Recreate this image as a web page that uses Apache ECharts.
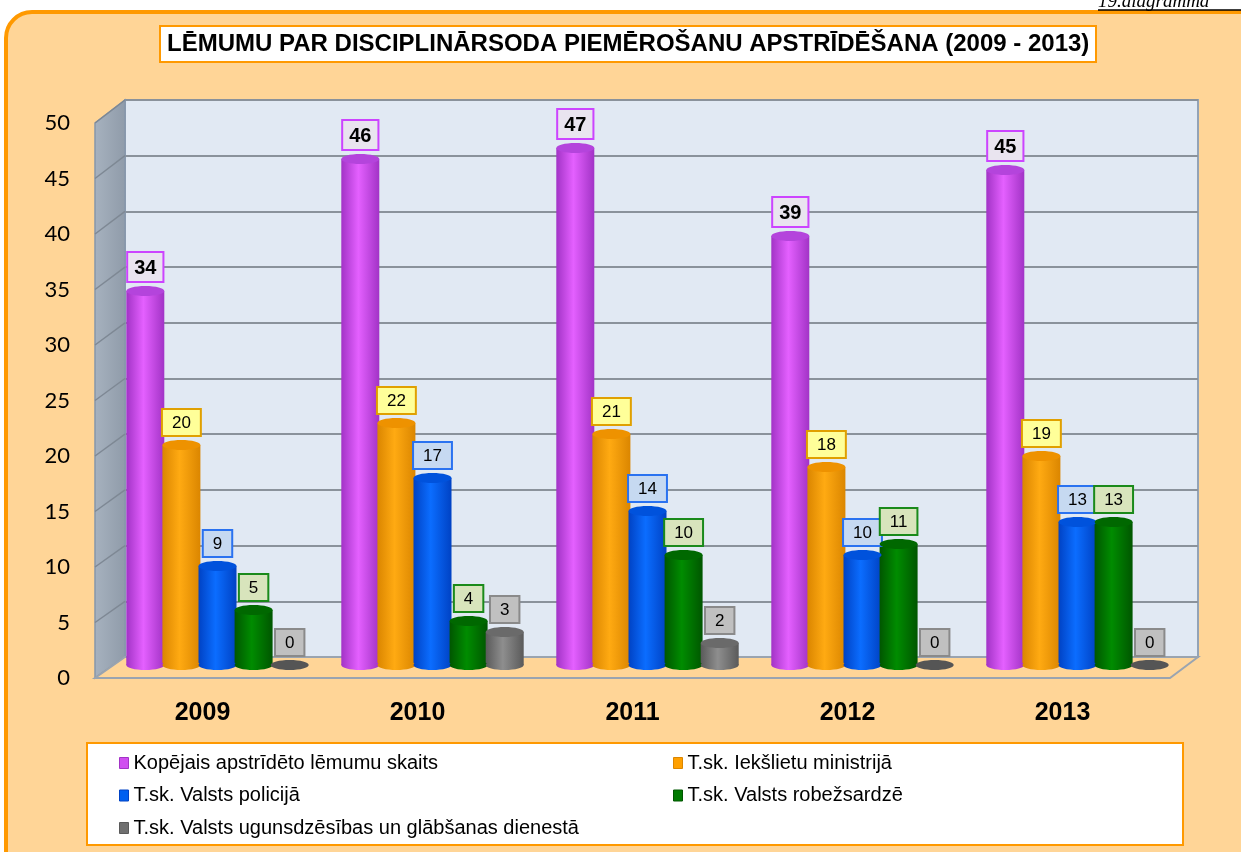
<!DOCTYPE html>
<html>
<head>
<meta charset="utf-8">
<script src="https://cdn.jsdelivr.net/npm/echarts@6/dist/echarts.min.js"></script>
<style>
  html, body { margin: 0; padding: 0; background: #fff; overflow: hidden; }
  #frame {
    position: absolute; left: 4px; top: 10px; width: 1270px; height: 880px;
    background: #FFD597; border: 4px solid #FF9900; border-radius: 28px;
  }
  #chart { position: absolute; left: 0; top: 0; width: 1241px; height: 852px; }
</style>
</head>
<body>
<div id="frame"></div>
<div id="chart"></div>
<script>
// data
const years = ['2009', '2010', '2011', '2012', '2013'];
const totalAppealed = [34, 46, 47, 39, 45];
const interiorMinistry = [20, 22, 21, 18, 19];
const statePolice = [9, 17, 14, 10, 13];
const borderGuard = [5, 4, 10, 11, 13];
const fireService = [0, 3, 2, 0, 0];
const yTicks = [0, 5, 10, 15, 20, 25, 30, 35, 40, 45, 50];

const seriesNames = [
  'Kopējais apstrīdēto lēmumu skaits',
  'T.sk. Iekšlietu ministrijā',
  'T.sk. Valsts policijā',
  'T.sk. Valsts robežsardzē',
  'T.sk. Valsts ugunsdzēsības un glābšanas dienestā'
];
const seriesValues = [totalAppealed, interiorMinistry, statePolice, borderGuard, fireService];

// look of each cylinder series
const looks = [
  { edge: '#A233C6', mid: '#E460FF', cap: '#B444DC', legend: '#D04EF0', bg: '#E9E4EF', line: '#CC44FF', bold: true },
  { edge: '#DB8600', mid: '#FFAA12', cap: '#EE9200', legend: '#FFA000', bg: '#FFFF99', line: '#E0A000' },
  { edge: '#0042C4', mid: '#0B6DFF', cap: '#0052DC', legend: '#0060F0', bg: '#C6D9F1', line: '#2A72F0' },
  { edge: '#005600', mid: '#008C00', cap: '#006800', legend: '#007A00', bg: '#D8E4BC', line: '#1A8A1A' },
  { edge: '#5A5A5A', mid: '#8E8E8E', cap: '#6A6A6A', legend: '#707070', bg: '#C0C0C0', line: '#8A8A8A' }
];

const BAR_W = 38;
const BAR_GAP = -0.05;
const font = '"Liberation Sans", Arial, sans-serif';

function bodyGradient(lk) {
  return new echarts.graphic.LinearGradient(0, 0, 1, 0, [
    { offset: 0, color: lk.edge },
    { offset: 0.45, color: lk.mid },
    { offset: 1, color: lk.edge }
  ]);
}

const barSeries = seriesValues.map((vals, k) => {
  const lk = looks[k];
  return {
    name: seriesNames[k],
    type: 'bar',
    xAxisIndex: 2,
    yAxisIndex: 2,
    data: vals,
    barWidth: BAR_W,
    barGap: (BAR_GAP * 100) + '%',
    itemStyle: { color: bodyGradient(lk) },
    label: {
      show: true,
      position: 'top',
      distance: 10,
      formatter: '{c}',
      fontFamily: font,
      fontSize: lk.bold ? 20 : 17,
      fontWeight: lk.bold ? 'bold' : 'normal',
      color: '#000',
      backgroundColor: lk.bg,
      borderColor: lk.line,
      borderWidth: 2,
      padding: lk.bold ? [5, 6, 3, 6] : [5, 9, 3, 9]
    }
  };
});

// elliptic caps and bottoms so the bars read as cylinders
const capSeries = {
  type: 'custom',
  xAxisIndex: 2,
  yAxisIndex: 2,
  z: 3,
  silent: true,
  data: years.map((y, i) => [i]),
  renderItem: function (params, api) {
    const i = api.value(0);
    const step = BAR_W * (1 + BAR_GAP);
    const children = [];
    seriesValues.forEach((vals, k) => {
      const lk = looks[k];
      const v = vals[i];
      const top = api.coord([i, v]);
      const base = api.coord([i, 0]);
      const cx = top[0] + (k - 2) * step;
      if (v > 0) {
        children.push({ type: 'ellipse', shape: { cx: cx, cy: base[1], rx: BAR_W / 2, ry: 5 }, style: { fill: bodyGradient(lk) } });
        children.push({ type: 'ellipse', shape: { cx: cx, cy: top[1], rx: BAR_W / 2, ry: 5 }, style: { fill: lk.cap } });
      } else {
        children.push({ type: 'ellipse', shape: { cx: cx, cy: base[1], rx: BAR_W / 2, ry: 5 }, style: { fill: '#555' } });
      }
    });
    return { type: 'group', children: children };
  }
};

const chart = echarts.init(document.getElementById('chart'));

const legendText = { fontFamily: font, fontSize: 20, color: '#000' };

const option = {
  animation: false,
  backgroundColor: 'transparent',
  title: {
    text: 'LĒMUMU PAR DISCIPLINĀRSODA PIEMĒROŠANU APSTRĪDĒŠANA (2009 - 2013)',
    left: 160,
    top: 26,
    padding: [6, 7, 5, 7],
    backgroundColor: '#fff',
    borderColor: '#FF9900',
    borderWidth: 2,
    textStyle: { fontFamily: font, fontSize: 24, fontWeight: 'bold', color: '#000', lineHeight: 25 }
  },
  legend: [
    {
      left: 114, top: 748, orient: 'vertical', itemGap: 12.5,
      icon: 'rect', itemWidth: 9, itemHeight: 11,
      textStyle: legendText,
      data: [0, 2, 4].map(k => ({ name: seriesNames[k], itemStyle: { color: looks[k].legend, borderColor: looks[k].edge, borderWidth: 1 } }))
    },
    {
      left: 668, top: 748, orient: 'vertical', itemGap: 12.5,
      icon: 'rect', itemWidth: 9, itemHeight: 11,
      textStyle: legendText,
      data: [1, 3].map(k => ({ name: seriesNames[k], itemStyle: { color: looks[k].legend, borderColor: looks[k].edge, borderWidth: 1 } }))
    }
  ],
  grid: [
    // back wall
    { left: 125, top: 100, width: 1073, height: 557, show: true, backgroundColor: '#E1E9F3', borderColor: '#93A3B6', borderWidth: 2, z: 0 },
    // front plane (axis labels)
    { left: 95, top: 123, width: 1075, height: 555 },
    // bars, standing mid-depth
    { left: 110, top: 115, width: 1075, height: 550 }
  ],
  xAxis: [
    { gridIndex: 0, type: 'category', data: years, show: false },
    {
      gridIndex: 1, type: 'category', data: years,
      axisLine: { show: false }, axisTick: { show: false },
      axisLabel: { fontFamily: font, fontSize: 25, fontWeight: 'bold', color: '#000', margin: 23 }
    },
    { gridIndex: 2, type: 'category', data: years, show: false }
  ],
  yAxis: [
    {
      gridIndex: 0, type: 'value', min: 0, max: 50, interval: 5,
      axisLine: { show: false }, axisTick: { show: false }, axisLabel: { show: false },
      splitLine: { lineStyle: { color: '#8A929B', width: 2 } }
    },
    {
      gridIndex: 1, type: 'value', min: 0, max: 50, interval: 5,
      axisLine: { show: false }, axisTick: { show: false }, splitLine: { show: false },
      axisLabel: { fontFamily: 'Lato, "Open Sans", sans-serif', fontSize: 22, color: '#000', margin: 25 }
    },
    { gridIndex: 2, type: 'value', min: 0, max: 50, interval: 5, show: false, splitLine: { show: false } }
  ],
  series: barSeries.concat([capSeries])
};

chart.setOption(option);

// 3D box decorations derived from the axes
const frontY = v => chart.convertToPixel({ yAxisIndex: 1 }, v);
const backY = v => chart.convertToPixel({ yAxisIndex: 0 }, v);
const fL = 95, bL = 125, bR = 1198, fR = 1170;

const sideLines = yTicks.map(v => ({
  type: 'line', z: 1,
  shape: { x1: fL, y1: frontY(v), x2: bL, y2: backY(v) },
  style: { stroke: '#7E8894', lineWidth: 1.5 }
}));

chart.setOption({
  graphic: [
    {
      type: 'text', left: 1098, top: -8,
      style: { text: '19.diagramma', font: 'italic 19px "Liberation Serif", serif', fill: '#000' }
    },
    { type: 'line', shape: { x1: 1098, y1: 10, x2: 1241, y2: 10 }, style: { stroke: '#000', lineWidth: 1.5 } },
    {
      type: 'polygon', z: 1,
      shape: { points: [[fL, frontY(50)], [bL, backY(50)], [bL, backY(0)], [fL, frontY(0)]] },
      style: {
        fill: new echarts.graphic.LinearGradient(0, 0, 1, 0, [
          { offset: 0, color: '#A7B2BF' }, { offset: 1, color: '#8F9BA9' }
        ]),
        stroke: '#8797AB', lineWidth: 1.5
      }
    },
    ...sideLines,
    {
      type: 'polygon', z: 1,
      shape: { points: [[bL, backY(0)], [bR, backY(0)], [fR, frontY(0)], [fL, frontY(0)]] },
      style: { fill: '#FFD597', stroke: '#9AA4B0', lineWidth: 2 }
    },
    {
      type: 'rect', z: 0,
      shape: { x: 87, y: 743, width: 1096, height: 102 },
      style: { fill: '#fff', stroke: '#FF9900', lineWidth: 2 }
    }
  ]
});
</script>
</body>
</html>
